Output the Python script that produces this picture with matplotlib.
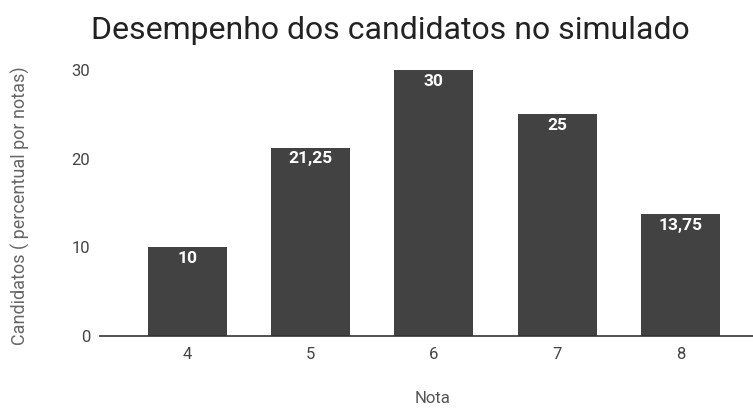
import matplotlib.pyplot as plt

plt.rcParams['font.family'] = ['Roboto', 'DejaVu Sans']

notas = [4, 5, 6, 7, 8]
percentual = [10, 21.25, 30, 25, 13.75]
rotulos = ["10", "21,25", "30", "25", "13,75"]

fig = plt.figure(figsize=(7.53, 4.11), dpi=100)
ax = fig.add_axes([0.1328, 0.1825, 0.8672, 0.6472])

bars = ax.bar(notas, percentual, width=0.64, color="#424242", zorder=2)
for b, txt in zip(bars, rotulos):
    ax.text(b.get_x() + b.get_width() / 2, b.get_height() - 0.4, txt,
            ha="center", va="top", color="white", fontsize=12.5, fontweight="bold")

ax.set_xlim(3.29, 8.59)
ax.set_ylim(0, 30)
ax.set_yticks([0, 10, 20, 30])
ax.set_xticks(notas)
ax.tick_params(axis="both", length=0, labelsize=12, labelcolor="#444444")
ax.tick_params(axis="y", pad=7)
ax.tick_params(axis="x", pad=8)
for s in ["top", "right", "left"]:
    ax.spines[s].set_visible(False)
ax.spines["bottom"].set_color("#333333")
ax.spines["bottom"].set_linewidth(1.2)

fig.text(0.518, 0.925, "Desempenho dos candidatos no simulado", ha="center", va="center",
         fontsize=23, color="#222222")
fig.text(0.027, 0.5, "Candidatos ( percentual por notas)", rotation=90, ha="center",
         va="center", fontsize=13, color="#666666")
fig.text(0.575, 0.012, "Nota", ha="center", va="bottom", fontsize=12, color="#555555")

fig.savefig("out.png", dpi=100)
